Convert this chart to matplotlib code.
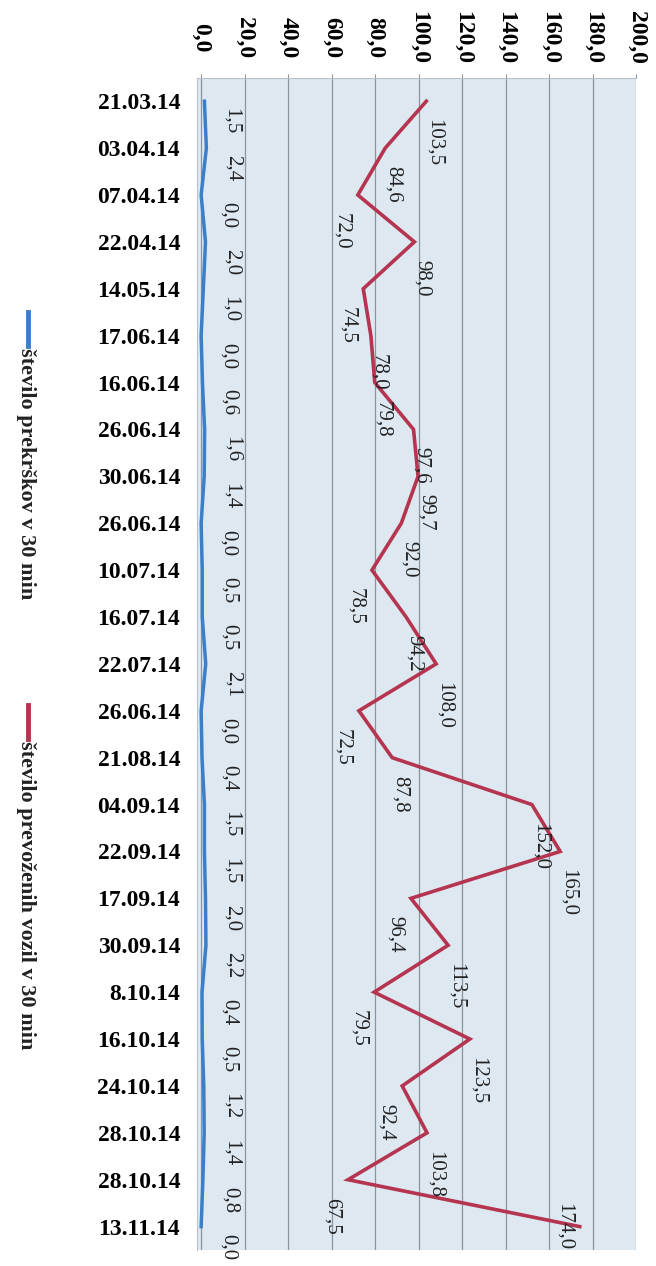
import matplotlib
matplotlib.use("Agg")
import matplotlib.pyplot as plt
from matplotlib.lines import Line2D
from matplotlib.ticker import FuncFormatter

BLUE = "#3b7fc9"
RED = "#b5344f"
GRID = "#8c939a"
BG = "#dde8f1"

# data (top to bottom)
dates = ["21.03.14", "03.04.14", "07.04.14", "22.04.14", "14.05.14", "17.06.14",
         "16.06.14", "26.06.14", "30.06.14", "26.06.14", "10.07.14", "16.07.14",
         "22.07.14", "26.06.14", "21.08.14", "04.09.14", "22.09.14", "17.09.14",
         "30.09.14", "8.10.14", "16.10.14", "24.10.14", "28.10.14", "28.10.14",
         "13.11.14"]
violations = [1.5, 2.4, 0.0, 2.0, 1.0, 0.0, 0.6, 1.6, 1.4, 0.0, 0.5, 0.5, 2.1,
              0.0, 0.4, 1.5, 1.5, 2.0, 2.2, 0.4, 0.5, 1.2, 1.4, 0.8, 0.0]
vehicles = [103.5, 84.6, 72.0, 98.0, 74.5, 78.0, 79.8, 97.6, 99.7, 92.0, 78.5,
            94.2, 108.0, 72.5, 87.8, 152.0, 165.0, 96.4, 113.5, 79.5, 123.5,
            92.4, 103.8, 67.5, 174.0]
legend_labels = ["število prekrškov v 30 min", "število prevoženih vozil v 30 min"]
value_ticks = [0, 20, 40, 60, 80, 100, 120, 140, 160, 180, 200]


def fmt(v):
    return f"{v:.1f}".replace(".", ",")


plt.rcParams["font.family"] = ["Liberation Serif", "DejaVu Serif"]

fig = plt.figure(figsize=(6.56, 12.66), dpi=100)
ax = fig.add_axes([0.300, 0.0126, 0.670, 0.926])
ax.set_facecolor(BG)

pos = list(range(len(dates)))
ax.plot(violations, pos, color=BLUE, lw=2.5, solid_joinstyle="miter", zorder=3)
ax.plot(vehicles, pos, color=RED, lw=2.6, solid_joinstyle="miter", zorder=3)

ax.set_xlim(-2, 200)
ax.set_ylim(len(dates) - 0.5, -0.5)

ax.xaxis.tick_top()
ax.set_xticks(value_ticks)
ax.xaxis.set_major_formatter(FuncFormatter(lambda v, p: fmt(v)))
ax.tick_params(axis="x", length=3, color=GRID, pad=26, labelsize=17)
for t in ax.get_xticklabels():
    t.set_rotation(-90)
    t.set_fontweight("bold")
    t.set_verticalalignment("center")

ax.set_yticks(pos)
ax.set_yticklabels(dates, fontsize=17, fontweight="bold")
ax.tick_params(axis="y", length=0, pad=12)

ax.grid(axis="x", color=GRID, lw=0.9)
ax.set_axisbelow(True)
for side, sp in ax.spines.items():
    sp.set_color("#b9c2ca")
    sp.set_linewidth(0.8)
ax.spines["right"].set_visible(False)
ax.spines["bottom"].set_visible(False)

# data labels
for i, v in enumerate(violations):
    ax.annotate(fmt(v), (v, i), xytext=(27, -20), textcoords="offset pixels",
                rotation=-90, ha="center", va="center", fontsize=15, color="#222222")

n = len(vehicles)
for i, v in enumerate(vehicles):
    if i == n - 1:
        # no room below the last point: label sits beside it
        ax.annotate(fmt(v), (v, i), xytext=(-16, 0), textcoords="offset pixels",
                    rotation=-90, ha="center", va="center", fontsize=15, color="#222222")
        continue
    local_min = 0 < i and v < vehicles[i - 1] and v < vehicles[i + 1]
    dx = -16 if local_min else 8
    ax.annotate(fmt(v), (v, i), xytext=(dx, -18), textcoords="offset pixels",
                rotation=-90, ha="center", va="top", fontsize=15, color="#222222")

# legend, drawn rotated like the rest of the scan
H = 1266.0
W = 656.0
for color, label, y0 in [(BLUE, legend_labels[0], 312), (RED, legend_labels[1], 705)]:
    fig.add_artist(Line2D([28 / W, 28 / W], [1 - y0 / H, 1 - (y0 + 34) / H],
                          transform=fig.transFigure, color=color, lw=3.5))
    fig.text(26 / W, 1 - (y0 + 36) / H, label, rotation=-90, ha="center", va="top",
             fontsize=16, fontweight="bold", color="#222222")

fig.savefig("out.png", dpi=100)
